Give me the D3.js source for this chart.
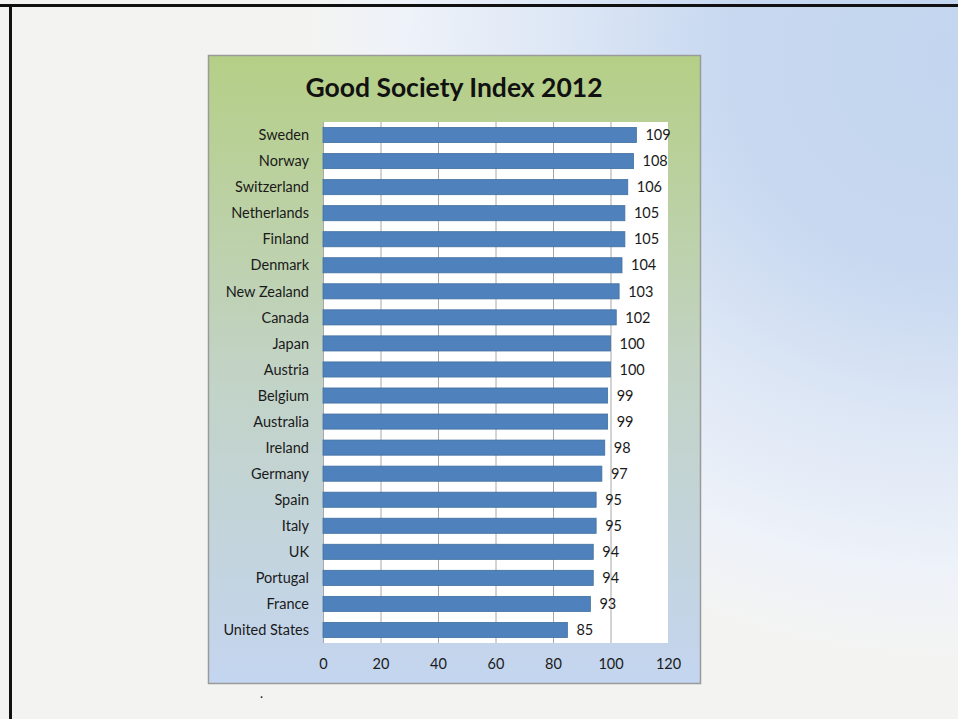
<!DOCTYPE html>
<html>
<head>
<meta charset="utf-8">
<title>Good Society Index 2012</title>
<script src="https://d3js.org/d3.v7.min.js"></script>
<style>
  html, body { margin: 0; padding: 0; background: #fff; }
  svg { display: block; }
  text { font-family: Lato, "Open Sans", "Liberation Sans", sans-serif; }
</style>
</head>
<body>
<svg id="chart" width="958" height="719"></svg>
<script>
var countries = ["Sweden", "Norway", "Switzerland", "Netherlands", "Finland", "Denmark",
  "New Zealand", "Canada", "Japan", "Austria", "Belgium", "Australia", "Ireland",
  "Germany", "Spain", "Italy", "UK", "Portugal", "France", "United States"];
var scores = [109, 108, 106, 105, 105, 104, 103, 102, 100, 100, 99, 99, 98, 97, 95, 95, 94, 94, 93, 85];
var xTicks = [0, 20, 40, 60, 80, 100, 120];
var title = "Good Society Index 2012";

var svg = d3.select("#chart");
var defs = svg.append("defs");

// slide background: blue in the upper right, fading to off-white
var bg = defs.append("radialGradient").attr("id", "slideBg")
  .attr("gradientUnits", "userSpaceOnUse")
  .attr("cx", 0).attr("cy", 0).attr("r", 1)
  .attr("gradientTransform", "translate(958,60) scale(650,600)");
bg.append("stop").attr("offset", "0").attr("stop-color", "#c4d6ef");
bg.append("stop").attr("offset", "0.35").attr("stop-color", "#c7d8f0");
bg.append("stop").attr("offset", "0.6").attr("stop-color", "#dce6f5");
bg.append("stop").attr("offset", "0.85").attr("stop-color", "#eef2f9");
bg.append("stop").attr("offset", "1").attr("stop-color", "#f3f4f2");

// chart box: green on top, blue at bottom
var box = defs.append("linearGradient").attr("id", "boxBg")
  .attr("x1", "0").attr("y1", "0").attr("x2", "0").attr("y2", "1");
box.append("stop").attr("offset", "0").attr("stop-color", "#b5cf86");
box.append("stop").attr("offset", "0.5").attr("stop-color", "#c2d3c5");
box.append("stop").attr("offset", "1").attr("stop-color", "#c4d5f0");

svg.append("rect").attr("width", 958).attr("height", 719).attr("fill", "url(#slideBg)");
// slide frame
svg.append("rect").attr("x", 0).attr("y", 4).attr("width", 958).attr("height", 3).attr("fill", "#111");
svg.append("rect").attr("x", 9).attr("y", 4).attr("width", 3).attr("height", 715).attr("fill", "#111");

svg.append("rect")
  .attr("x", 208.5).attr("y", 55.5).attr("width", 492).attr("height", 628)
  .attr("fill", "url(#boxBg)").attr("stroke", "#9a9a9a").attr("stroke-width", 1.5);

svg.append("text")
  .attr("x", 454).attr("y", 97)
  .attr("text-anchor", "middle")
  .attr("font-size", 26.5).attr("font-weight", "bold").attr("fill", "#111")
  .text(title);

var plotL = 323, plotR = 668, plotT = 122, plotB = 643;

var x = d3.scaleLinear().domain([0, 120]).range([plotL, plotR]);
var y = d3.scaleBand().domain(countries).range([plotT, plotB]).paddingInner(0.42).paddingOuter(0.21);

svg.append("rect")
  .attr("x", plotL).attr("y", plotT).attr("width", plotR - plotL).attr("height", plotB - plotT)
  .attr("fill", "#fff");

svg.selectAll("line.grid")
  .data(xTicks.slice(0, -1))
  .enter().append("line")
  .attr("class", "grid")
  .attr("x1", function (d) { return x(d) + 0.5; })
  .attr("x2", function (d) { return x(d) + 0.5; })
  .attr("y1", plotT).attr("y2", plotB)
  .attr("stroke", "#a8a8a8").attr("stroke-width", 1);

svg.selectAll("rect.bar")
  .data(scores)
  .enter().append("rect")
  .attr("class", "bar")
  .attr("x", x(0))
  .attr("y", function (d, i) { return y(countries[i]); })
  .attr("width", function (d) { return x(d) - x(0); })
  .attr("height", y.bandwidth())
  .attr("fill", "#4f81bd")
  .attr("stroke", "#41709f").attr("stroke-width", 0.8);

svg.selectAll("text.val")
  .data(scores)
  .enter().append("text")
  .attr("class", "val")
  .attr("x", function (d) { return x(d) + 9; })
  .attr("y", function (d, i) { return y(countries[i]) + y.bandwidth() / 2; })
  .attr("dy", "0.36em")
  .attr("font-size", 14.5).attr("fill", "#1a1a1a")
  .text(function (d) { return d; });

svg.selectAll("text.cat")
  .data(countries)
  .enter().append("text")
  .attr("class", "cat")
  .attr("x", plotL - 14)
  .attr("y", function (d) { return y(d) + y.bandwidth() / 2; })
  .attr("dy", "0.36em")
  .attr("text-anchor", "end")
  .attr("font-size", 14.5).attr("fill", "#1a1a1a")
  .text(function (d) { return d; });

var xAxis = svg.append("g")
  .attr("transform", "translate(0," + plotB + ")")
  .call(d3.axisBottom(x).tickValues(xTicks).tickSize(0).tickPadding(16));
xAxis.select(".domain").remove();
xAxis.selectAll("text")
  .attr("font-size", 14.5).attr("fill", "#1a1a1a")
  .style("font-family", "Lato, 'Open Sans', sans-serif");

svg.append("text")
  .attr("x", 260).attr("y", 698)
  .attr("font-size", 13).attr("fill", "#111")
  .text(".");
</script>
</body>
</html>
